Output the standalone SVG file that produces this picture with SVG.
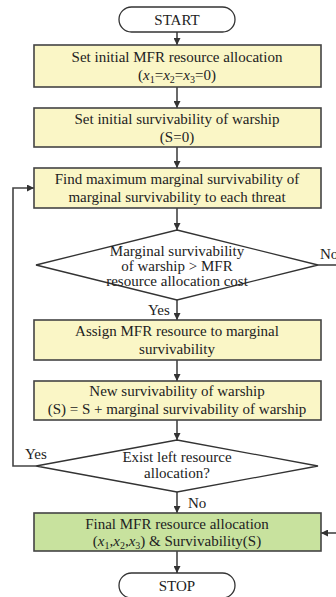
<svg xmlns="http://www.w3.org/2000/svg" width="336" height="597" viewBox="0 0 336 597">
<style>
text{font-family:"Liberation Serif","DejaVu Serif","Times New Roman",serif;fill:#222}
.t{font-size:15px;text-anchor:middle}
.l{font-size:15px}
.box{fill:#faf6c6;stroke:#444;stroke-width:1.6}
.gbox{fill:#c8e29e;stroke:#444;stroke-width:1.6}
.term{fill:#fff;stroke:#333;stroke-width:1.3}
.dia{fill:#fff;stroke:#333;stroke-width:1.3}
.c{fill:none;stroke:#444;stroke-width:1.6}
</style>
<defs>
<marker id="ah" viewBox="0 0 10 10" refX="10" refY="5" markerWidth="7" markerHeight="7" markerUnits="userSpaceOnUse" orient="auto">
<path d="M0,0 L10,5 L0,10 z" fill="#333"/>
</marker>
</defs>
<g id="connectors">
<line class="c" x1="177" y1="32" x2="177" y2="45" marker-end="url(#ah)"/>
<line class="c" x1="177" y1="87" x2="177" y2="108" marker-end="url(#ah)"/>
<line class="c" x1="177" y1="147" x2="177" y2="168" marker-end="url(#ah)"/>
<line class="c" x1="177" y1="208" x2="177" y2="230" marker-end="url(#ah)"/>
<line class="c" x1="318" y1="265" x2="336" y2="265"/>
<line class="c" x1="177" y1="300" x2="177" y2="320" marker-end="url(#ah)"/>
<line class="c" x1="177" y1="360" x2="177" y2="381" marker-end="url(#ah)"/>
<line class="c" x1="177" y1="420" x2="177" y2="440" marker-end="url(#ah)"/>
<polyline class="c" points="36,466 13,466 13,188 34,188" marker-end="url(#ah)"/>
<line class="c" x1="177" y1="492" x2="177" y2="513" marker-end="url(#ah)"/>
<line class="c" x1="336" y1="533" x2="321" y2="533" marker-end="url(#ah)"/>
<line class="c" x1="177" y1="551" x2="177" y2="573" marker-end="url(#ah)"/>
<text class="l" x="320" y="259">No</text>
<text class="l" x="148" y="315">Yes</text>
<text class="l" x="25" y="459">Yes</text>
<text class="l" x="188" y="508">No</text>
</g>
<g id="start">
<rect class="term" x="119" y="7" width="116" height="25" rx="12.5"/>
<text class="t" x="177" y="25">START</text>
</g>
<g id="init-alloc">
<rect class="box" x="34" y="45" width="287" height="42"/>
<text class="t" x="177" y="62">Set initial MFR resource allocation</text>
<text class="t" x="177" y="80">(<tspan font-style="italic">x</tspan><tspan font-size="10" dy="3">1</tspan><tspan dy="-3">=</tspan><tspan font-style="italic">x</tspan><tspan font-size="10" dy="3">2</tspan><tspan dy="-3">=</tspan><tspan font-style="italic">x</tspan><tspan font-size="10" dy="3">3</tspan><tspan dy="-3">=0)</tspan></text>
</g>
<g id="init-surv">
<rect class="box" x="34" y="108" width="287" height="39"/>
<text class="t" x="177" y="124">Set initial survivability of warship</text>
<text class="t" x="177" y="142">(S=0)</text>
</g>
<g id="find-max">
<rect class="box" x="34" y="168" width="287" height="40"/>
<text class="t" x="177" y="184">Find maximum marginal survivability of</text>
<text class="t" x="177" y="202">marginal survivability to each threat</text>
</g>
<g id="decision-cost">
<polygon class="dia" points="177,230 318,265 177,300 36,265"/>
<text class="t" x="177" y="256">Marginal survivability</text>
<text class="t" x="177" y="271">of warship &gt; MFR</text>
<text class="t" x="177" y="286">resource allocation cost</text>
</g>
<g id="assign">
<rect class="box" x="34" y="320" width="287" height="40"/>
<text class="t" x="177" y="336">Assign MFR resource to marginal</text>
<text class="t" x="177" y="354">survivability</text>
</g>
<g id="new-surv">
<rect class="box" x="34" y="381" width="287" height="39"/>
<text class="t" x="177" y="396">New survivability of warship</text>
<text class="t" x="177" y="414">(S) = S + marginal survivability of warship</text>
</g>
<g id="decision-left">
<polygon class="dia" points="177,440 318,466 177,492 36,466"/>
<text class="t" x="177" y="462">Exist left resource</text>
<text class="t" x="177" y="478">allocation?</text>
</g>
<g id="final">
<rect class="gbox" x="34" y="513" width="287" height="38"/>
<text class="t" x="177" y="529">Final MFR resource allocation</text>
<text class="t" x="177" y="546">(<tspan font-style="italic">x</tspan><tspan font-size="10" dy="3">1</tspan><tspan dy="-3">,</tspan><tspan font-style="italic">x</tspan><tspan font-size="10" dy="3">2</tspan><tspan dy="-3">,</tspan><tspan font-style="italic">x</tspan><tspan font-size="10" dy="3">3</tspan><tspan dy="-3">) &amp; Survivability(S)</tspan></text>
</g>
<g id="stop">
<rect class="term" x="119" y="573" width="116" height="25" rx="12.5"/>
<text class="t" x="177" y="591">STOP</text>
</g>
</svg>
